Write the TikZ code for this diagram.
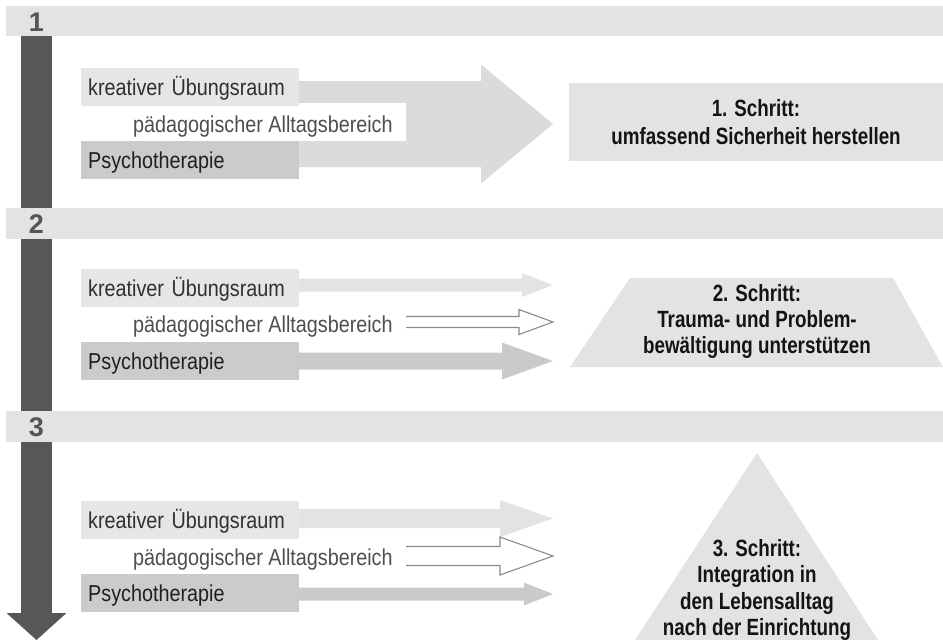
\documentclass[tikz,border=0pt]{standalone}
\usepackage{fontspec}
\setmainfont{Liberation Sans}
\newfontfamily\labelfont[FakeStretch=0.86]{Liberation Sans}
\newfontfamily\stepfont[FakeStretch=0.80]{Liberation Sans}

\definecolor{bandgray}{HTML}{E3E3E3}
\definecolor{bargray}{HTML}{575757}
\definecolor{boxlight}{HTML}{E6E6E6}
\definecolor{boxdark}{HTML}{CBCBCB}
\definecolor{arrowmid}{HTML}{DBDBDB}
\definecolor{arrowdark}{HTML}{CACACA}
\definecolor{outlinegray}{HTML}{8A8A8A}
\definecolor{textdark}{HTML}{303030}
\definecolor{textmid}{HTML}{4E4E4E}
\definecolor{numgray}{HTML}{555555}

\tikzset{
  labelbox/.style={anchor=west, minimum height=38pt, text width=204pt, align=left,
    inner xsep=7pt, inner ysep=0pt, text height=17pt, text depth=0pt,
    font=\labelfont\fontsize{23}{27}\selectfont, text=textdark},
  padtext/.style={anchor=west, inner sep=0pt, text height=17pt, text depth=0pt,
    font=\labelfont\fontsize{23}{27}\selectfont, text=textmid},
  numlabel/.style={inner sep=0pt, text height=19pt, text depth=0pt,
    font=\bfseries\fontsize{27}{30}\selectfont, text=numgray},
  steptext/.style={align=center, inner sep=0pt, text depth=0pt, text=black!92},
  hollow/.style={draw=outlinegray, line width=1.1pt, line join=miter, fill=white},
}

% block arrow: style, start x, centre y, head start x, tip x, half shaft, half head
\newcommand\solidarrow[7]{%
  \fill[#1] (#2,#3-#6) -- (#4,#3-#6) -- (#4,#3-#7) -- (#5,#3)
    -- (#4,#3+#7) -- (#4,#3+#6) -- (#2,#3+#6) -- cycle;}
% open outline arrow: start x, centre y, head start x, tip x, half shaft, half head
\newcommand\hollowarrow[6]{%
  \draw[hollow] (#1,#2-#5) -- (#3,#2-#5) -- (#3,#2-#6) -- (#4,#2)
    -- (#3,#2+#6) -- (#3,#2+#5) -- (#1,#2+#5);}

\begin{document}
\begin{tikzpicture}[x=1pt,y=-1pt]
\useasboundingbox (0,0) rectangle (943,640);
\clip (0,0) rectangle (943,640);

% vertical progress arrow
\fill[bargray] (21,30) rectangle (52,613.5);
\fill[bargray] (6.5,613) -- (66.5,613) -- (36.5,640) -- cycle;

% phase bands
\fill[bandgray] (6,6) rectangle (943,36);
\fill[bandgray] (6,208) rectangle (943,239);
\fill[bandgray] (6,411) rectangle (943,442);
\node[numlabel] (n1) at (36.5,22) {1};
\node[numlabel] (n2) at (36.5,224) {2};
\node[numlabel] (n3) at (36.5,427) {3};

% ---- phase 1 ----
\solidarrow{arrowmid}{90}{124}{481}{553}{43}{59.5}
\fill[white] (81,103) rectangle (406,141);
\node[labelbox, fill=boxlight] (k1) at (81,87) {kreativer Übungsraum};
\node[padtext] (p1) at (133,124) {pädagogischer Alltagsbereich};
\node[labelbox, fill=boxdark, text=black!88] (y1) at (81,160) {Psychotherapie};

\node[fill=bandgray, minimum width=374pt, minimum height=78pt, inner sep=0pt] (b1) at (756,122) {};
\node[steptext, font=\stepfont\bfseries\fontsize{23.5}{28}\selectfont] (s1) at (756,121.5)
  {1. Schritt:\\umfassend Sicherheit herstellen};

% ---- phase 2 ----
\solidarrow{bandgray}{200}{285}{522}{553}{6.5}{12}
\hollowarrow{406}{322}{519}{553}{5.5}{12.5}
\solidarrow{arrowdark}{200}{361}{502}{553}{8.5}{18.5}
\node[labelbox, fill=boxlight] (k2) at (81,288) {kreativer Übungsraum};
\node[padtext] (p2) at (133,324) {pädagogischer Alltagsbereich};
\node[labelbox, fill=boxdark, text=black!88] (y2) at (81,360.5) {Psychotherapie};

\fill[bandgray] (630,278) -- (893,278) -- (943,367) -- (570,367) -- cycle;
\node[steptext, font=\stepfont\bfseries\fontsize{23.5}{26}\selectfont] (s2) at (757,318.5)
  {2. Schritt:\\Trauma- und Problem-\\bewältigung unterstützen};

% ---- phase 3 ----
\solidarrow{bandgray}{200}{518.5}{500}{553}{9.5}{18.5}
\hollowarrow{406}{556}{500}{553}{9.5}{19}
\solidarrow{arrowdark}{200}{594}{524}{553}{6.5}{11.5}
\node[labelbox, fill=boxlight] (k3) at (81,520) {kreativer Übungsraum};
\node[padtext] (p3) at (133,556.5) {pädagogischer Alltagsbereich};
\node[labelbox, fill=boxdark, text=black!88] (y3) at (81,593) {Psychotherapie};

\fill[bandgray] (757,453) -- (878,640) -- (635,640) -- cycle;
\node[steptext, font=\stepfont\bfseries\fontsize{23.5}{26.3}\selectfont] (s3) at (757,587.5)
  {3. Schritt:\\Integration in\\den Lebensalltag\\nach der Einrichtung};
\end{tikzpicture}
\end{document}
